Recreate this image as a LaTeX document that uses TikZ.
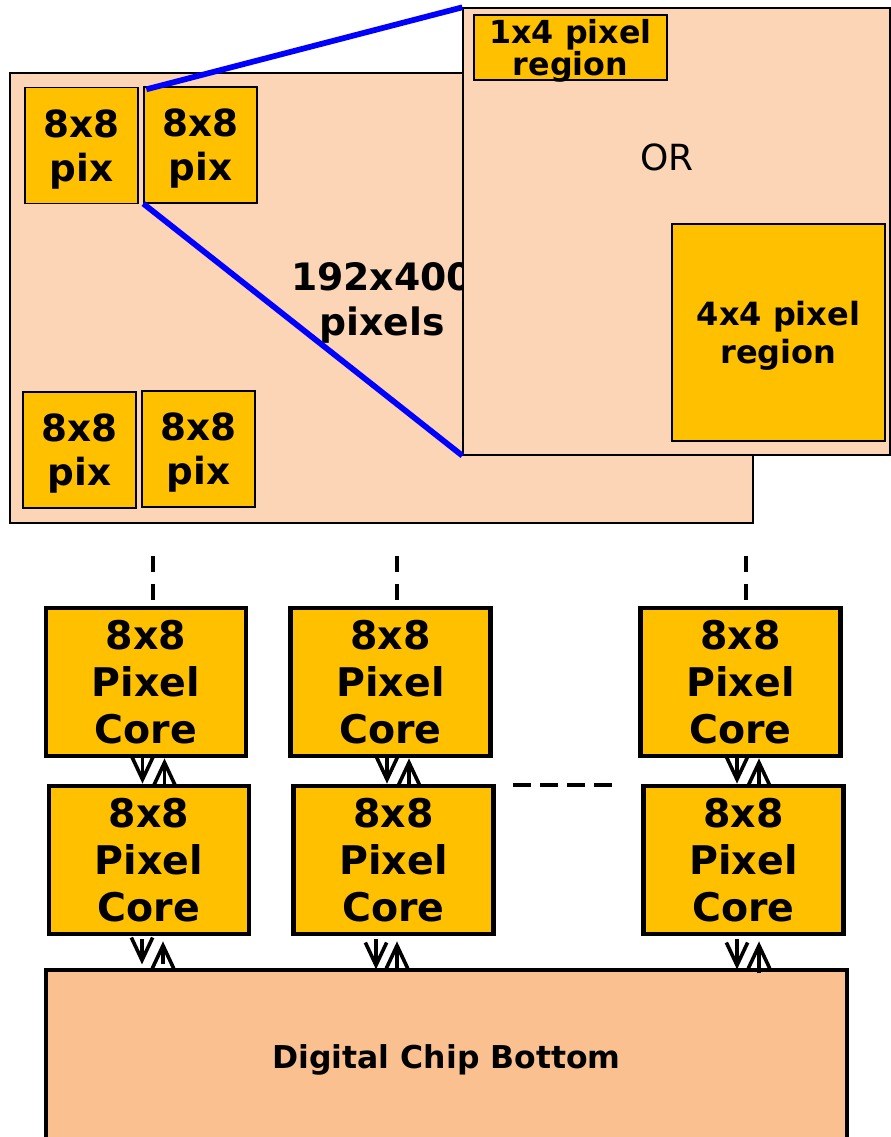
\documentclass[tikz,border=0pt]{standalone}
\usepackage{fontspec}
\setsansfont{DejaVu Sans}
\usetikzlibrary{positioning,arrows.meta,calc}
\definecolor{peach}{HTML}{FBD5B5}
\definecolor{chipfill}{HTML}{FAC090}
\definecolor{gold}{HTML}{FFC000}

\begin{document}
\begin{tikzpicture}[
  x=0.75pt, y=-0.75pt,
  font=\sffamily\bfseries,
  pixbox/.style={draw, line width=1pt, fill=gold, align=center, inner sep=0pt, text depth=0pt,
    minimum width=84.75pt, minimum height=87pt, font=\sffamily\bfseries\fontsize{28}{33}\selectfont},
  core/.style={draw, line width=3.6pt, fill=gold, align=center, inner sep=0pt,
    minimum width=150pt, minimum height=111pt, font=\sffamily\bfseries\fontsize{29.6}{35.2}\selectfont},
  region/.style={draw, line width=1pt, fill=gold, align=center, inner sep=0pt, text depth=0pt},
  link/.style={-{Straight Barb[length=17pt,width=16pt]}, line width=2.7pt},
  dashln/.style={line width=2.8pt, dash pattern=on 12.4pt off 8.8pt}
]
\useasboundingbox (0,0) rectangle (891,1137);

% sensor plane with its 8x8 blocks
\node[draw, line width=1pt, fill=peach, minimum width=557.25pt, minimum height=337.5pt] (plane) at (381.5,298) {};
\node[pixbox] (p1) at (81.5,145.5) {8x8\\pix};
\node[pixbox] (p2) at (200.5,145) {8x8\\pix};
\node[pixbox] (p3) at (79.5,450) {8x8\\pix};
\node[pixbox] (p4) at (198.5,449) {8x8\\pix};
\node[font=\sffamily\bfseries\fontsize{28.3}{34}\selectfont, align=center, text depth=0pt] (plabel) at (382,299) {192x400\\pixels};

% zoomed block
\node[draw, line width=1pt, fill=peach, minimum width=320.25pt, minimum height=335.25pt] (zoom) at (676.5,231.5) {};
\node[region, minimum width=144.75pt, minimum height=48.75pt,
  font=\sffamily\bfseries\fontsize{23.8}{23.5}\selectfont] (r14) at (570.5,47.5) {1x4 pixel\\region};
\node[font=\sffamily\fontsize{27}{32}\selectfont] (or) at (667,157) {OR};
\node[region, minimum width=159.75pt, minimum height=162.75pt,
  font=\sffamily\bfseries\fontsize{24}{28.5}\selectfont] (r44) at (778.5,332.5) {4x4 pixel\\region};
\draw[blue, line width=4.3pt] ($(p2.north west)+(3,3)$) -- (zoom.north west);
\draw[blue, line width=4.3pt] (p2.south west) -- (zoom.south west);

% pixel cores
\node[core] (t1) at (146,682) {8x8\\Pixel\\Core};
\node[core] (t2) at (390.5,682) {8x8\\Pixel\\Core};
\node[core] (t3) at (740.5,682) {8x8\\Pixel\\Core};
\node[core] (b1) at (149,860) {8x8\\Pixel\\Core};
\node[core] (b2) at (393.5,860) {8x8\\Pixel\\Core};
\node[core] (b3) at (743.5,860) {8x8\\Pixel\\Core};
\node[draw, line width=3.6pt, fill=chipfill, minimum width=600.75pt, minimum height=135pt,
  font=\sffamily\bfseries\fontsize{23.6}{28}\selectfont] (chip) at (446.5,1060) {Digital Chip Bottom};

\draw[dashln] ($(t1.north)+(7,-50)$) -- ($(t1.north)+(7,-5)$);
\draw[dashln] ($(t2.north)+(6.5,-50)$) -- ($(t2.north)+(6.5,-5)$);
\draw[dashln] ($(t3.north)+(5.5,-50)$) -- ($(t3.north)+(5.5,-5)$);
\coordinate (dl) at (513,785);
\coordinate (dr) at (613,785);
\draw[line width=2.8pt, dash pattern=on 13.5pt off 6.75pt] (dl) -- (dr);

% core to core
\draw[link] ($(t1.south)+(-3.5,0)$) -- ($(b1.north)+(-6.5,0)$);
\draw[link] ($(b1.north)+(15.5,0)$) -- ($(t1.south)+(18.5,0)$);
\draw[link] ($(t2.south)+(-3.5,0)$) -- ($(b2.north)+(-6.5,0)$);
\draw[link] ($(b2.north)+(15.5,0)$) -- ($(t2.south)+(18.5,0)$);
\draw[link] ($(t3.south)+(-3.5,0)$) -- ($(b3.north)+(-6.5,0)$);
\draw[link] ($(b3.north)+(15.5,0)$) -- ($(t3.south)+(18.5,0)$);

% core to chip
\draw[link] ($(b1.south)+(-7,3)$) -- ($(b1.south)+(-7,28)$);
\draw[link] ($(b1.south)+(14,28)$) -- ($(b1.south)+(14,5)$);
\draw[link] ($(b2.south)+(-17.5,3)$) -- ($(b2.south)+(-17.5,33)$);
\draw[link] (b2.south |- chip.north) ++(3.5,0) -- ($(b2.south)+(3.5,5)$);
\draw[link] ($(b3.south)+(-6.5,3)$) -- ($(b3.south)+(-6.5,33)$);
\draw[link] ($(b3.south)+(15.5,37)$) -- ($(b3.south)+(15.5,5)$);
\end{tikzpicture}
\end{document}
